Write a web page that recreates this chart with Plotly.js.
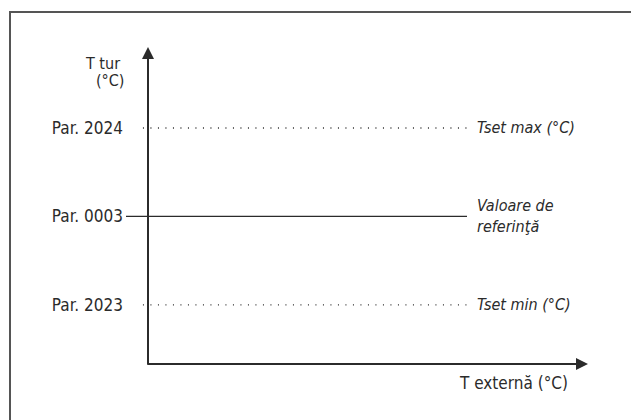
<!DOCTYPE html>
<html>
<head>
<meta charset="utf-8">
<script src="https://cdn.plot.ly/plotly-3.0.1.min.js"></script>
<style>
  html, body { margin: 0; padding: 0; background: #fff; }
  #wrap { position: relative; width: 631px; height: 420px; overflow: hidden; }
  #chart { position: absolute; left: 0; top: 0; width: 631px; height: 420px; }
  #frame { position: absolute; left: 9px; top: 11px; width: 700px; height: 500px;
           border-left: 2px solid #555; border-top: 2px solid #555; pointer-events: none; }
</style>
</head>
<body>
<div id="wrap">
  <div id="chart"></div>
  <div id="frame"></div>
</div>
<script>
// ---- data ----
const levelLabels = ['Par. 2024', 'Par. 0003', 'Par. 2023'];
const levelValues = [3, 2, 1];
const lineStart = [-0.23, -1, -0.23];
const lineEnd = [14.5, 14.5, 14.5];
const lineDash = ['dot', 'solid', 'dot'];
const rightLabels = ['Tset max (°C)', 'Valoare de<br>referinţă', 'Tset min (°C)'];
const xAxisTitle = 'T externă (°C)';
const yAxisTitle = ['T tur', '(°C)'];
const xRange = [-1, 20];
const yRange = [0.333, 3.915];

// ---- drawing ----
const FONT = '"DejaVu Sans Condensed", "Liberation Sans Narrow", "Arial Narrow", sans-serif';
const INK = '#2b2b2b';

const traces = levelValues.map((v, i) => ({
  type: 'scatter',
  mode: 'lines',
  x: [lineStart[i], lineEnd[i]],
  y: [v, v],
  line: { color: INK, width: lineDash[i] === 'solid' ? 1.2 : 1.3, dash: lineDash[i] === 'dot' ? '1px,6.5px' : 'solid' },
  hoverinfo: 'skip',
  showlegend: false
}));

const annotations = [];
// right-hand labels
levelValues.forEach((v, i) => {
  annotations.push({
    x: lineEnd[i], y: v, xref: 'x', yref: 'y',
    text: rightLabels[i], showarrow: false, xanchor: 'left', yanchor: 'middle',
    align: 'left', xshift: 8, yshift: 0,
    font: { family: FONT, size: 16, color: INK, style: 'italic' }
  });
});
// y axis arrow
annotations.push({
  x: 0, y: yRange[1], xref: 'x', yref: 'y',
  ax: 0, ay: yRange[0] - 0.02, axref: 'x', ayref: 'y',
  showarrow: true, arrowhead: 2, arrowsize: 1.2, arrowwidth: 2, arrowcolor: INK,
  standoff: 0, startstandoff: 0, text: ''
});
// x axis arrow
annotations.push({
  x: xRange[1], y: yRange[0], xref: 'x', yref: 'y',
  ax: -0.1, ay: yRange[0], axref: 'x', ayref: 'y',
  showarrow: true, arrowhead: 2, arrowsize: 1.2, arrowwidth: 2, arrowcolor: INK,
  standoff: 0, startstandoff: 0, text: ''
});
// axis titles
annotations.push({
  x: 0.838, y: 0, xref: 'paper', yref: 'paper', yshift: -19,
  text: xAxisTitle, showarrow: false, xanchor: 'center', yanchor: 'middle',
  font: { family: FONT, size: 17, color: INK }
});
annotations.push({
  x: 0, y: 1, xref: 'paper', yref: 'paper', xshift: -4, yshift: -16,
  text: yAxisTitle[0], showarrow: false, xanchor: 'right', yanchor: 'middle',
  font: { family: FONT, size: 16, color: INK }
});
annotations.push({
  x: 0, y: 1, xref: 'paper', yref: 'paper', xshift: 0, yshift: -33,
  text: yAxisTitle[1], showarrow: false, xanchor: 'right', yanchor: 'middle',
  font: { family: FONT, size: 16, color: INK }
});

const layout = {
  width: 631, height: 420,
  margin: { l: 126, r: 43, t: 47, b: 56, pad: 0 },
  paper_bgcolor: 'rgba(0,0,0,0)', plot_bgcolor: 'rgba(0,0,0,0)',
  showlegend: false,
  xaxis: { range: xRange, showgrid: false, zeroline: false, showline: false,
           showticklabels: false, ticks: '', fixedrange: true },
  yaxis: { range: yRange, showgrid: false, zeroline: false, showline: false,
           tickvals: levelValues, ticktext: levelLabels, ticks: '',
           ticklabelstandoff: 2,
           tickfont: { family: FONT, size: 17, color: INK }, fixedrange: true },
  annotations: annotations
};

Plotly.newPlot('chart', traces, layout, { staticPlot: true, displayModeBar: false });
</script>
</body>
</html>
